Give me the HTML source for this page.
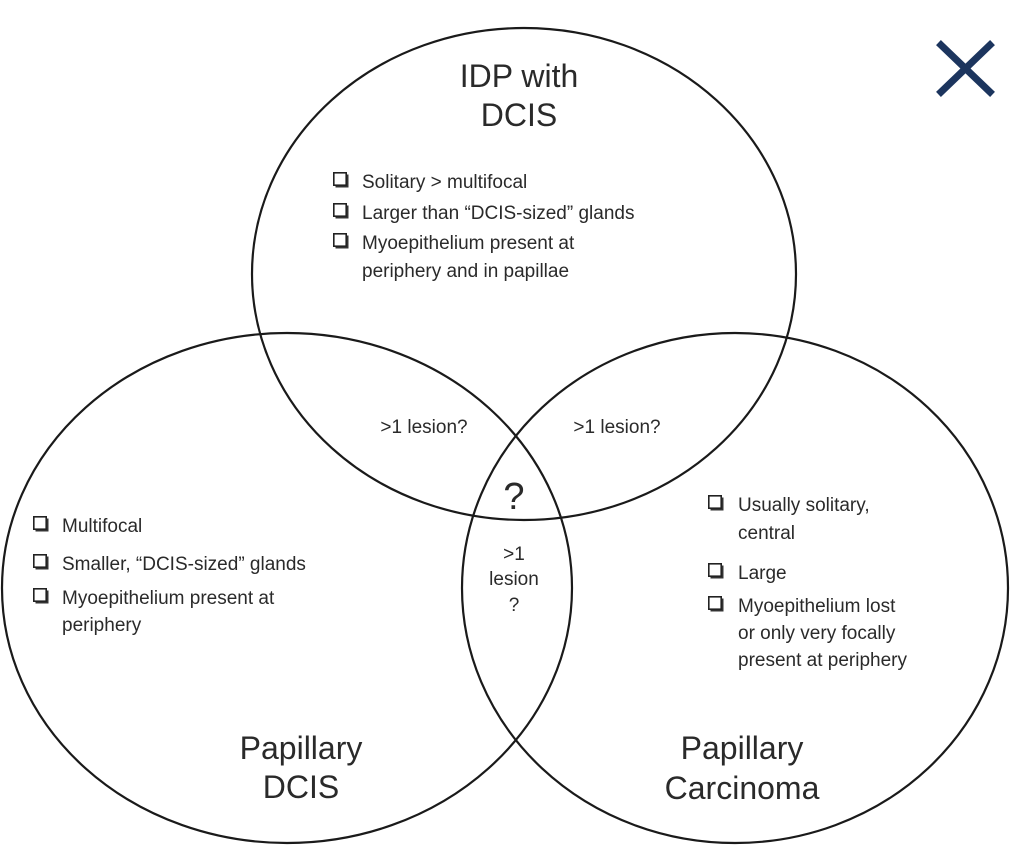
<!DOCTYPE html>
<html><head><meta charset="utf-8"><style>
html,body{margin:0;padding:0;background:#fff}
svg{display:block}
text{font-family:"Liberation Sans",sans-serif;fill:#2a2a2a}
.t{font-size:19px}
.h{font-size:32px}
</style></head><body>
<svg width="1023" height="858" viewBox="0 0 1023 858">
<defs>
<g id="cb"><rect x="2.5" y="2.5" width="13" height="13" fill="#333"/><rect x="0.8" y="0.8" width="12.4" height="12.4" fill="#fff" stroke="#222" stroke-width="1.6"/></g>
</defs>
<g fill="none" stroke="#1a1a1a" stroke-width="2.2">
<ellipse cx="524" cy="274" rx="272" ry="246"/>
<ellipse cx="287" cy="588" rx="285" ry="255"/>
<ellipse cx="735" cy="588" rx="273" ry="255"/>
</g>
<g stroke="#1c355e" stroke-width="7" stroke-linecap="square">
<line x1="941" y1="45" x2="990" y2="92"/><line x1="990" y1="45" x2="941" y2="92"/>
</g>
<text class="h" x="519" y="87" text-anchor="middle">IDP with</text>
<text class="h" x="519" y="126" text-anchor="middle">DCIS</text>
<text class="h" x="301" y="759" text-anchor="middle">Papillary</text>
<text class="h" x="301" y="798" text-anchor="middle">DCIS</text>
<text class="h" x="742" y="759" text-anchor="middle">Papillary</text>
<text class="h" x="742" y="799" text-anchor="middle">Carcinoma</text>

<use href="#cb" x="333" y="172"/><text class="t" x="362" y="188">Solitary &gt; multifocal</text>
<use href="#cb" x="333" y="203"/><text class="t" x="362" y="219">Larger than “DCIS-sized” glands</text>
<use href="#cb" x="333" y="233"/><text class="t" x="362" y="249">Myoepithelium present at</text>
<text class="t" x="362" y="277">periphery and in papillae</text>

<use href="#cb" x="33" y="516"/><text class="t" x="62" y="532">Multifocal</text>
<use href="#cb" x="33" y="554"/><text class="t" x="62" y="570">Smaller, “DCIS-sized” glands</text>
<use href="#cb" x="33" y="588"/><text class="t" x="62" y="604">Myoepithelium present at</text>
<text class="t" x="62" y="631">periphery</text>

<use href="#cb" x="708" y="495"/><text class="t" x="738" y="511">Usually solitary,</text>
<text class="t" x="738" y="539">central</text>
<use href="#cb" x="708" y="563"/><text class="t" x="738" y="579">Large</text>
<use href="#cb" x="708" y="596"/><text class="t" x="738" y="612">Myoepithelium lost</text>
<text class="t" x="738" y="639">or only very focally</text>
<text class="t" x="738" y="666">present at periphery</text>

<text class="t" x="424" y="433" text-anchor="middle">&gt;1 lesion?</text>
<text class="t" x="617" y="433" text-anchor="middle">&gt;1 lesion?</text>
<text x="514" y="509" text-anchor="middle" style="font-size:38px">?</text>
<text class="t" x="514" y="560" text-anchor="middle">&gt;1</text>
<text class="t" x="514" y="585" text-anchor="middle">lesion</text>
<text class="t" x="514" y="611" text-anchor="middle">?</text>
</svg>
</body></html>
